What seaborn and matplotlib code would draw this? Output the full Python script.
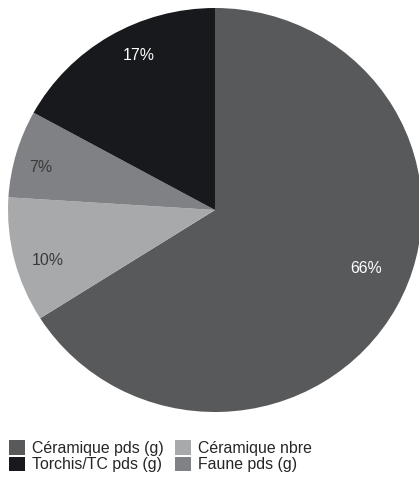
import matplotlib
matplotlib.use("Agg")
import matplotlib.pyplot as plt
import seaborn as sns
from matplotlib.patches import Patch

categories = ["Céramique pds (g)", "Céramique nbre", "Faune pds (g)", "Torchis/TC pds (g)"]
values = [66, 10, 7, 17]
colors = ["#58595b", "#a7a9ab", "#808184", "#17191c"]
label_colors = ["white", "#3a3a3a", "#3a3a3a", "white"]
label_pos = [(0.729, -0.292), (-0.81, -0.252), (-0.84, 0.208), (-0.367, 0.767)]
legend_order = ["Céramique pds (g)", "Torchis/TC pds (g)", "Céramique nbre", "Faune pds (g)"]

sns.set_theme(style="white")
plt.rcParams['font.family'] = ['Liberation Sans', 'DejaVu Sans']

W, H = 419, 483
fig = plt.figure(figsize=(W / 100, H / 100), dpi=100)
# pie area in pixels: x 8..422, y 8..412
ax = fig.add_axes([8 / W, (H - 412) / H, 414 / W, 404 / H])
palette = sns.color_palette(colors)

wedges, texts, autotexts = ax.pie(
    values, colors=palette, startangle=90, counterclock=False,
    autopct=lambda p: f"{p:.0f}%", pctdistance=0.84,
    wedgeprops=dict(linewidth=0), textprops=dict(fontsize=11.4))
for t, c, p in zip(autotexts, label_colors, label_pos):
    t.set_color(c)
    t.set_position(p)
ax.set_aspect('auto')
ax.set_xlim(-1, 1)
ax.set_ylim(-1, 1)
ax.axis('off')

cmap = dict(zip(categories, palette))
handles = [Patch(facecolor=cmap[c], edgecolor='none', label=c) for c in legend_order]
fig.legend(handles=handles, loc='upper left', bbox_to_anchor=(9 / W, 1 - 440 / H),
           ncol=2, frameon=False, fontsize=11.4, handlelength=1.0, handleheight=1.05,
           handletextpad=0.45, columnspacing=0.7, labelspacing=0.05, borderpad=0,
           borderaxespad=0)

fig.savefig("out.png", dpi=100)
